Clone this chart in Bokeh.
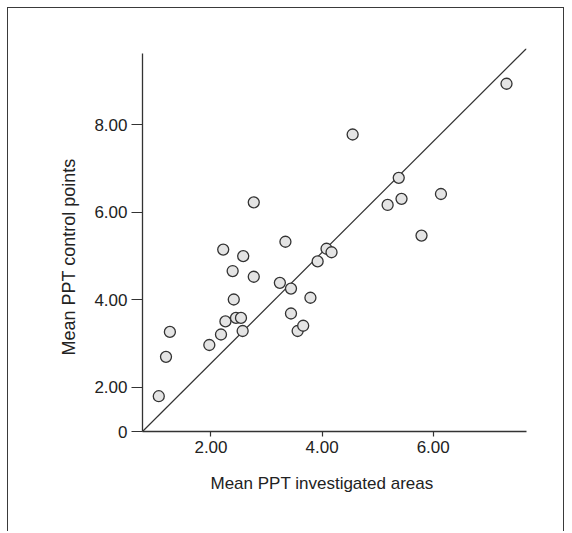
from bokeh.plotting import figure
from bokeh.models import FixedTicker, NumeralTickFormatter, Range1d, Title
from bokeh.embed import file_html
from bokeh.resources import INLINE

# ---- data ----
investigated = [1.06, 1.19, 1.26, 1.97, 2.18, 2.26, 2.45, 2.54, 2.57, 2.41, 2.39,
                2.22, 2.58, 2.77, 2.77, 3.24, 3.34, 3.44, 3.44, 3.56, 3.66, 3.79,
                3.92, 4.08, 4.17, 4.55, 5.18, 5.38, 5.43, 5.79, 6.14, 7.32]
control = [1.80, 2.70, 3.27, 2.97, 3.21, 3.51, 3.59, 3.59, 3.29, 4.01, 4.66,
           5.15, 5.00, 4.53, 6.23, 4.39, 5.33, 4.26, 3.69, 3.29, 3.41, 4.05,
           4.88, 5.17, 5.09, 7.78, 6.17, 6.79, 6.31, 5.47, 6.42, 8.94]
ref_x = [0.767, 7.68]
ref_y = [0.994, 9.745]
x_ticks = [2, 4, 6]
y_ticks = [0.994, 2, 4, 6, 8]
y_tick_labels = ["0", "2.00", "4.00", "6.00", "8.00"]
x_title = "Mean PPT investigated areas"
y_title = "Mean PPT control points"

FONT = "Liberation Sans"
INK = "#333333"
TEXT = "#222222"

p = figure(width=557, height=524, output_backend="svg", toolbar_location=None,
           x_range=Range1d(0.767, 7.68), y_range=Range1d(0.994, 9.745),
           min_border_left=134, min_border_right=39, min_border_top=40,
           min_border_bottom=101)
p.styles = {"margin-left": "7px", "margin-top": "7px",
            "border-left": "1px solid #3a3a3a", "border-top": "1px solid #3a3a3a",
            "border-right": "1px solid #3a3a3a"}
p.outline_line_color = None
p.xgrid.visible = False
p.ygrid.visible = False
p.background_fill_color = "white"
p.border_fill_color = "white"

p.line(ref_x, ref_y, line_color=INK, line_width=1.2)
p.scatter(investigated, control, size=11, fill_color="#e4e4e4",
          line_color=INK, line_width=1.3)

for ax in (p.xaxis[0], p.yaxis[0]):
    ax.axis_line_color = INK
    ax.axis_line_width = 1.3
    ax.major_tick_line_color = INK
    ax.major_tick_line_width = 1.2
    ax.minor_tick_line_color = None
    ax.major_tick_in = 0
    ax.major_label_text_font = FONT
    ax.major_label_text_font_size = "17px"
    ax.major_label_text_color = TEXT

p.xaxis.ticker = FixedTicker(ticks=x_ticks)
p.xaxis.formatter = NumeralTickFormatter(format="0.00")
p.xaxis.major_tick_out = 5
p.xaxis.major_label_standoff = 4

p.yaxis.ticker = FixedTicker(ticks=y_ticks)
p.yaxis.major_label_overrides = {t: s for t, s in zip(y_ticks, y_tick_labels)}
p.yaxis.major_tick_out = 11
p.yaxis.major_label_standoff = 4
p.yaxis.bounds = (0.994, 9.64)

p.add_layout(Title(text=x_title, align="left", offset=68, standoff=33,
                   text_font=FONT, text_font_size="17px", text_color=TEXT,
                   text_font_style="normal"), "below")
p.add_layout(Title(text=y_title, align="left", offset=76, standoff=25,
                   text_font=FONT, text_font_size="18px", text_color=TEXT,
                   text_font_style="normal"), "left")

open("out.html", "w").write(file_html(p, INLINE))
